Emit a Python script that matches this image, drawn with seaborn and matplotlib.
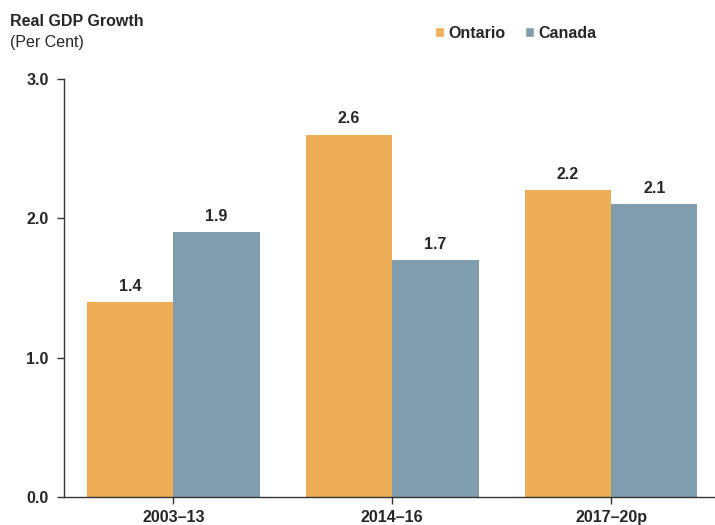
import pandas as pd
import matplotlib
matplotlib.use("Agg")
import matplotlib.pyplot as plt
import seaborn as sns
from matplotlib.patches import Patch

periods = ["2003–13", "2014–16", "2017–20p"]
ontario = [1.4, 2.6, 2.2]
canada = [1.9, 1.7, 2.1]
regions = ["Ontario", "Canada"]
colors = ["#EDAE57", "#7F9DAD"]

df = pd.DataFrame({
    "period": periods * 2,
    "region": [regions[0]] * 3 + [regions[1]] * 3,
    "growth": ontario + canada,
})

sns.set_style("white")
plt.rcParams["font.family"] = ["Liberation Sans", "DejaVu Sans"]

fig = plt.figure(figsize=(7.15, 5.25), dpi=100)
ax = fig.add_axes([0.0895, 0.0533, 0.9105, 0.7962])

sns.barplot(data=df, x="period", y="growth", hue="region", palette=colors,
            width=0.79, saturation=1, linewidth=0, ax=ax, legend=False)

for cont in ax.containers:
    ax.bar_label(cont, fmt="%.1f", padding=6, fontsize=11.5, fontweight="bold")

ax.set_ylim(0, 3.0)
ax.set_xlim(-0.5, 2.475)
ax.set_yticks([0, 1, 2, 3])
ax.set_yticklabels(["0.0", "1.0", "2.0", "3.0"])
ax.set_xlabel("")
ax.set_ylabel("")
for lab in ax.get_xticklabels() + ax.get_yticklabels():
    lab.set_fontweight("bold")
    lab.set_fontsize(11.5)
ax.tick_params(axis="both", length=5, width=1, color="#333333", direction="out",
               bottom=True, left=True)
ax.tick_params(axis="x", pad=4)
ax.tick_params(axis="y", pad=6)

sns.despine(ax=ax, top=True, right=True)
for side in ["left", "bottom"]:
    ax.spines[side].set_color("#333333")
    ax.spines[side].set_linewidth(1)

fig.text(0.014, 0.960, "Real GDP Growth", fontsize=11.5, fontweight="bold", va="center")
fig.text(0.014, 0.919, "(Per Cent)", fontsize=11.5, va="center")

handles = [Patch(facecolor=c, label=r) for c, r in zip(colors, regions)]
fig.legend(handles=handles, loc="center left", bbox_to_anchor=(0.588, 0.937),
           ncol=2, frameon=False, handlelength=0.6, handleheight=0.6,
           handletextpad=0.25, columnspacing=1.2,
           prop={"weight": "bold", "size": 11.5})

fig.savefig("out.png", dpi=100)
